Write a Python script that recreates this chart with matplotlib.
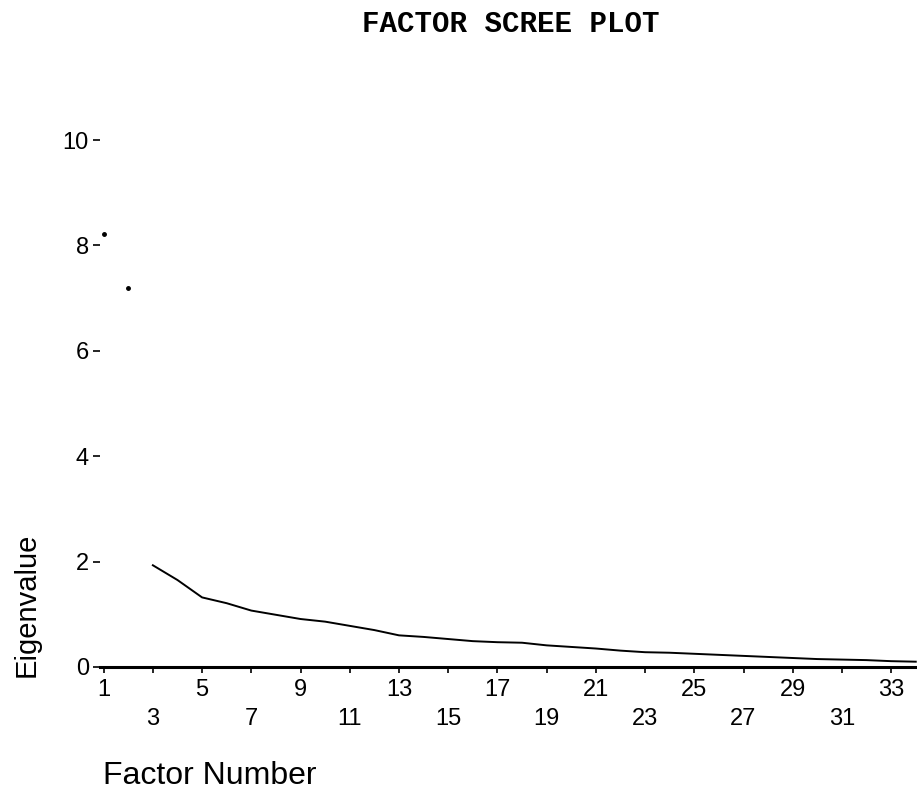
import matplotlib
matplotlib.use("Agg")
import matplotlib.pyplot as plt

# Eigenvalues
factors = list(range(1, 35))
eigenvalues = [8.22, 7.20, 1.93, 1.65, 1.32, 1.21, 1.07, 0.99, 0.91, 0.86,
               0.78, 0.70, 0.60, 0.57, 0.53, 0.49, 0.47, 0.46, 0.41, 0.38,
               0.35, 0.31, 0.28, 0.27, 0.25, 0.23, 0.21, 0.19, 0.17, 0.15,
               0.14, 0.13, 0.11, 0.10]
y_ticks = [0, 2, 4, 6, 8, 10]
x_ticks = list(range(1, 35, 2))

plt.rcParams["font.family"] = ["Liberation Sans", "DejaVu Sans"]

fig = plt.figure(figsize=(9.17, 7.94), dpi=100)
ax = fig.add_axes([0.109, 0.16, 0.891, 0.73])

# the first two factors only survive as faint marks in the scan
ax.plot(factors[:2], eigenvalues[:2], linestyle="none", marker="o",
        markersize=2.5, color="black")
ax.plot(factors[2:], eigenvalues[2:], color="black", linewidth=1.4)

ax.set_xlim(0.85, 34.05)
ax.set_ylim(0, 11)

ax.set_yticks(y_ticks)
ax.set_yticklabels([str(v) for v in y_ticks], fontsize=17)
ax.tick_params(axis="y", length=5, width=1.2, pad=3)

ax.set_xticks(x_ticks)
labels = []
for i, v in enumerate(x_ticks):
    labels.append(str(v) if i % 2 == 0 else "\n" + str(v))
ax.set_xticklabels(labels, fontsize=17, linespacing=1.45)
ax.tick_params(axis="x", length=4, width=1.2, pad=4.5)

for side in ["left", "top", "right"]:
    ax.spines[side].set_visible(False)
ax.spines["bottom"].set_linewidth(2.2)

fig.text(0.557, 0.970, "FACTOR SCREE PLOT", family="Liberation Mono",
         weight="bold", fontsize=21, ha="center", va="center")
fig.text(0.029, 0.238, "Eigenvalue", rotation=90, fontsize=21,
         ha="center", va="center")
fig.text(0.112, 0.023, "Factor Number", fontsize=23, ha="left", va="center")

plt.savefig("out.png", dpi=100)
